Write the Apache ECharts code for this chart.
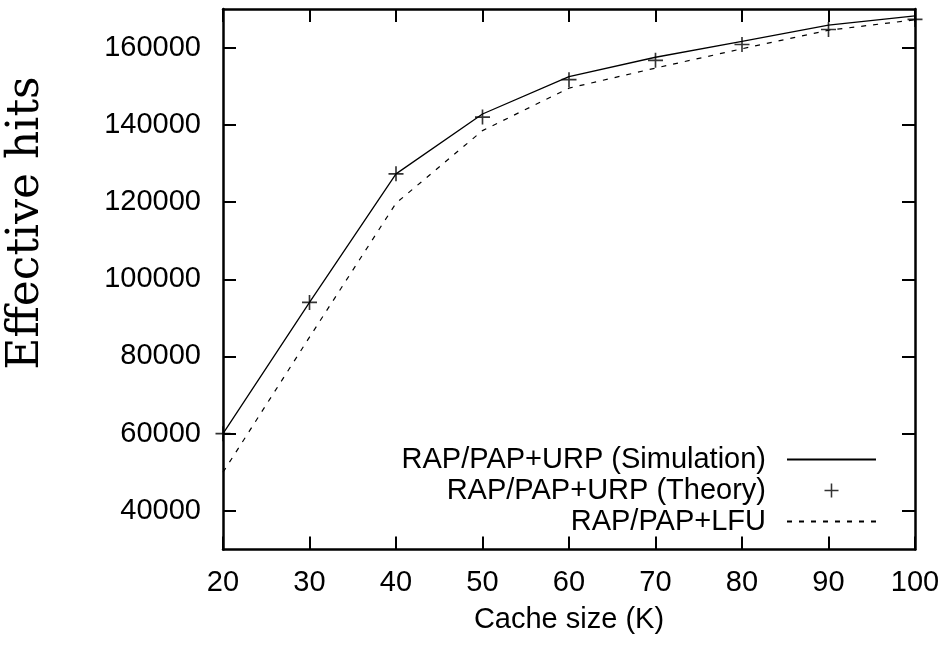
<!DOCTYPE html>
<html><head><meta charset="utf-8">
<script src="https://cdn.jsdelivr.net/npm/echarts@6/dist/echarts.min.js"></script>
<style>html,body{margin:0;padding:0;background:#fff}#c{width:949px;height:649px}</style>
</head><body><div id="c"></div>
<script>
const cacheSizes = [20, 30, 40, 50, 60, 70, 80, 90, 100];
const simulation = [60000, 94000, 127300, 142800, 152500, 157500, 161600, 165800, 168200];
const theory = [60000, 94000, 127300, 142000, 151700, 156700, 160800, 164700, 167300];
const lfu = [50000, 85000, 119700, 138500, 149500, 154700, 159700, 164500, 167200];
const yTicks = [40000, 60000, 80000, 100000, 120000, 140000, 160000];
const xTicks = [20, 30, 40, 50, 60, 70, 80, 90, 100];
const seriesNames = ['RAP/PAP+URP (Simulation)', 'RAP/PAP+URP (Theory)', 'RAP/PAP+LFU'];
const xTitle = 'Cache size (K)';
const yTitle = 'Effective hits';

const pair = (xs, ys) => xs.map((x, i) => [x, ys[i]]);
const FONT = 'Liberation Sans';
const plus = 'path://M-1,-0.11 L-0.11,-0.11 L-0.11,-1 L0.11,-1 L0.11,-0.11 L1,-0.11 L1,0.11 L0.11,0.11 L0.11,1 L-0.11,1 L-0.11,0.11 L-1,0.11 Z';

const axisLine = { show: true, onZero: false, lineStyle: { color: '#000', width: 2.5 } };
const tick = (vals) => ({ show: true, inside: true, length: 13, lineStyle: { color: '#000', width: 2 }, customValues: vals });

const chart = echarts.init(document.getElementById('c'), null, { renderer: 'canvas' });
chart.setOption({
  animation: false,
  backgroundColor: '#fff',
  grid: { left: 223, right: 34, top: 9, bottom: 99.5, containLabel: false },
  xAxis: [
    { type: 'value', position: 'bottom', min: xTicks[0], max: xTicks[xTicks.length - 1], interval: 10,
      axisLine, axisTick: tick(xTicks), splitLine: { show: false },
      axisLabel: { customValues: xTicks, formatter: v => String(v), color: '#000', fontFamily: FONT, fontSize: 29, margin: 19 },
      name: xTitle, nameLocation: 'middle', nameGap: 56,
      nameTextStyle: { color: '#000', fontFamily: FONT, fontSize: 29 } },
    { type: 'value', position: 'top', min: xTicks[0], max: xTicks[xTicks.length - 1], interval: 10,
      axisLine, axisTick: tick(xTicks), splitLine: { show: false }, axisLabel: { show: false } }
  ],
  yAxis: [
    { type: 'value', position: 'left', min: 30000, max: 170000, interval: 10000,
      axisLine, axisTick: tick(yTicks), splitLine: { show: false },
      axisLabel: { customValues: yTicks, formatter: v => String(v), color: '#000', fontFamily: FONT, fontSize: 29, margin: 22 } },
    { type: 'value', position: 'right', min: 30000, max: 170000, interval: 10000,
      axisLine, axisTick: tick(yTicks), splitLine: { show: false }, axisLabel: { show: false } }
  ],
  graphic: [{
    type: 'text', x: 27, y: 223, rotation: Math.PI / 2,
    style: { text: yTitle, fontFamily: 'DejaVu Serif', fontSize: 44, fill: '#000', align: 'center', verticalAlign: 'middle' }
  }],
  legend: {
    orient: 'vertical', align: 'right', right: 72, top: 444, padding: 0, itemGap: 0,
    itemWidth: 89, itemHeight: 14, selectedMode: false,
    textStyle: { color: '#000', fontFamily: FONT, fontSize: 29, lineHeight: 31, padding: [0, 16, 0, 0] },
    data: [
      { name: seriesNames[0], itemStyle: { opacity: 0 } },
      { name: seriesNames[1] },
      { name: seriesNames[2], itemStyle: { opacity: 0 } }
    ]
  },
  series: [
    { name: seriesNames[0], type: 'line', data: pair(cacheSizes, simulation), symbol: 'none',
      lineStyle: { color: '#000', width: 1.3 }, itemStyle: { color: '#000' } },
    { name: seriesNames[1], type: 'scatter', data: pair(cacheSizes, theory), symbol: plus, symbolSize: 15,
      symbolKeepAspect: true, itemStyle: { color: '#000' } },
    { name: seriesNames[2], type: 'line', data: pair(cacheSizes, lfu), symbol: 'none',
      lineStyle: { color: '#000', width: 1.2, type: [5, 7] }, itemStyle: { color: '#000' } }
  ]
});
</script></body></html>
